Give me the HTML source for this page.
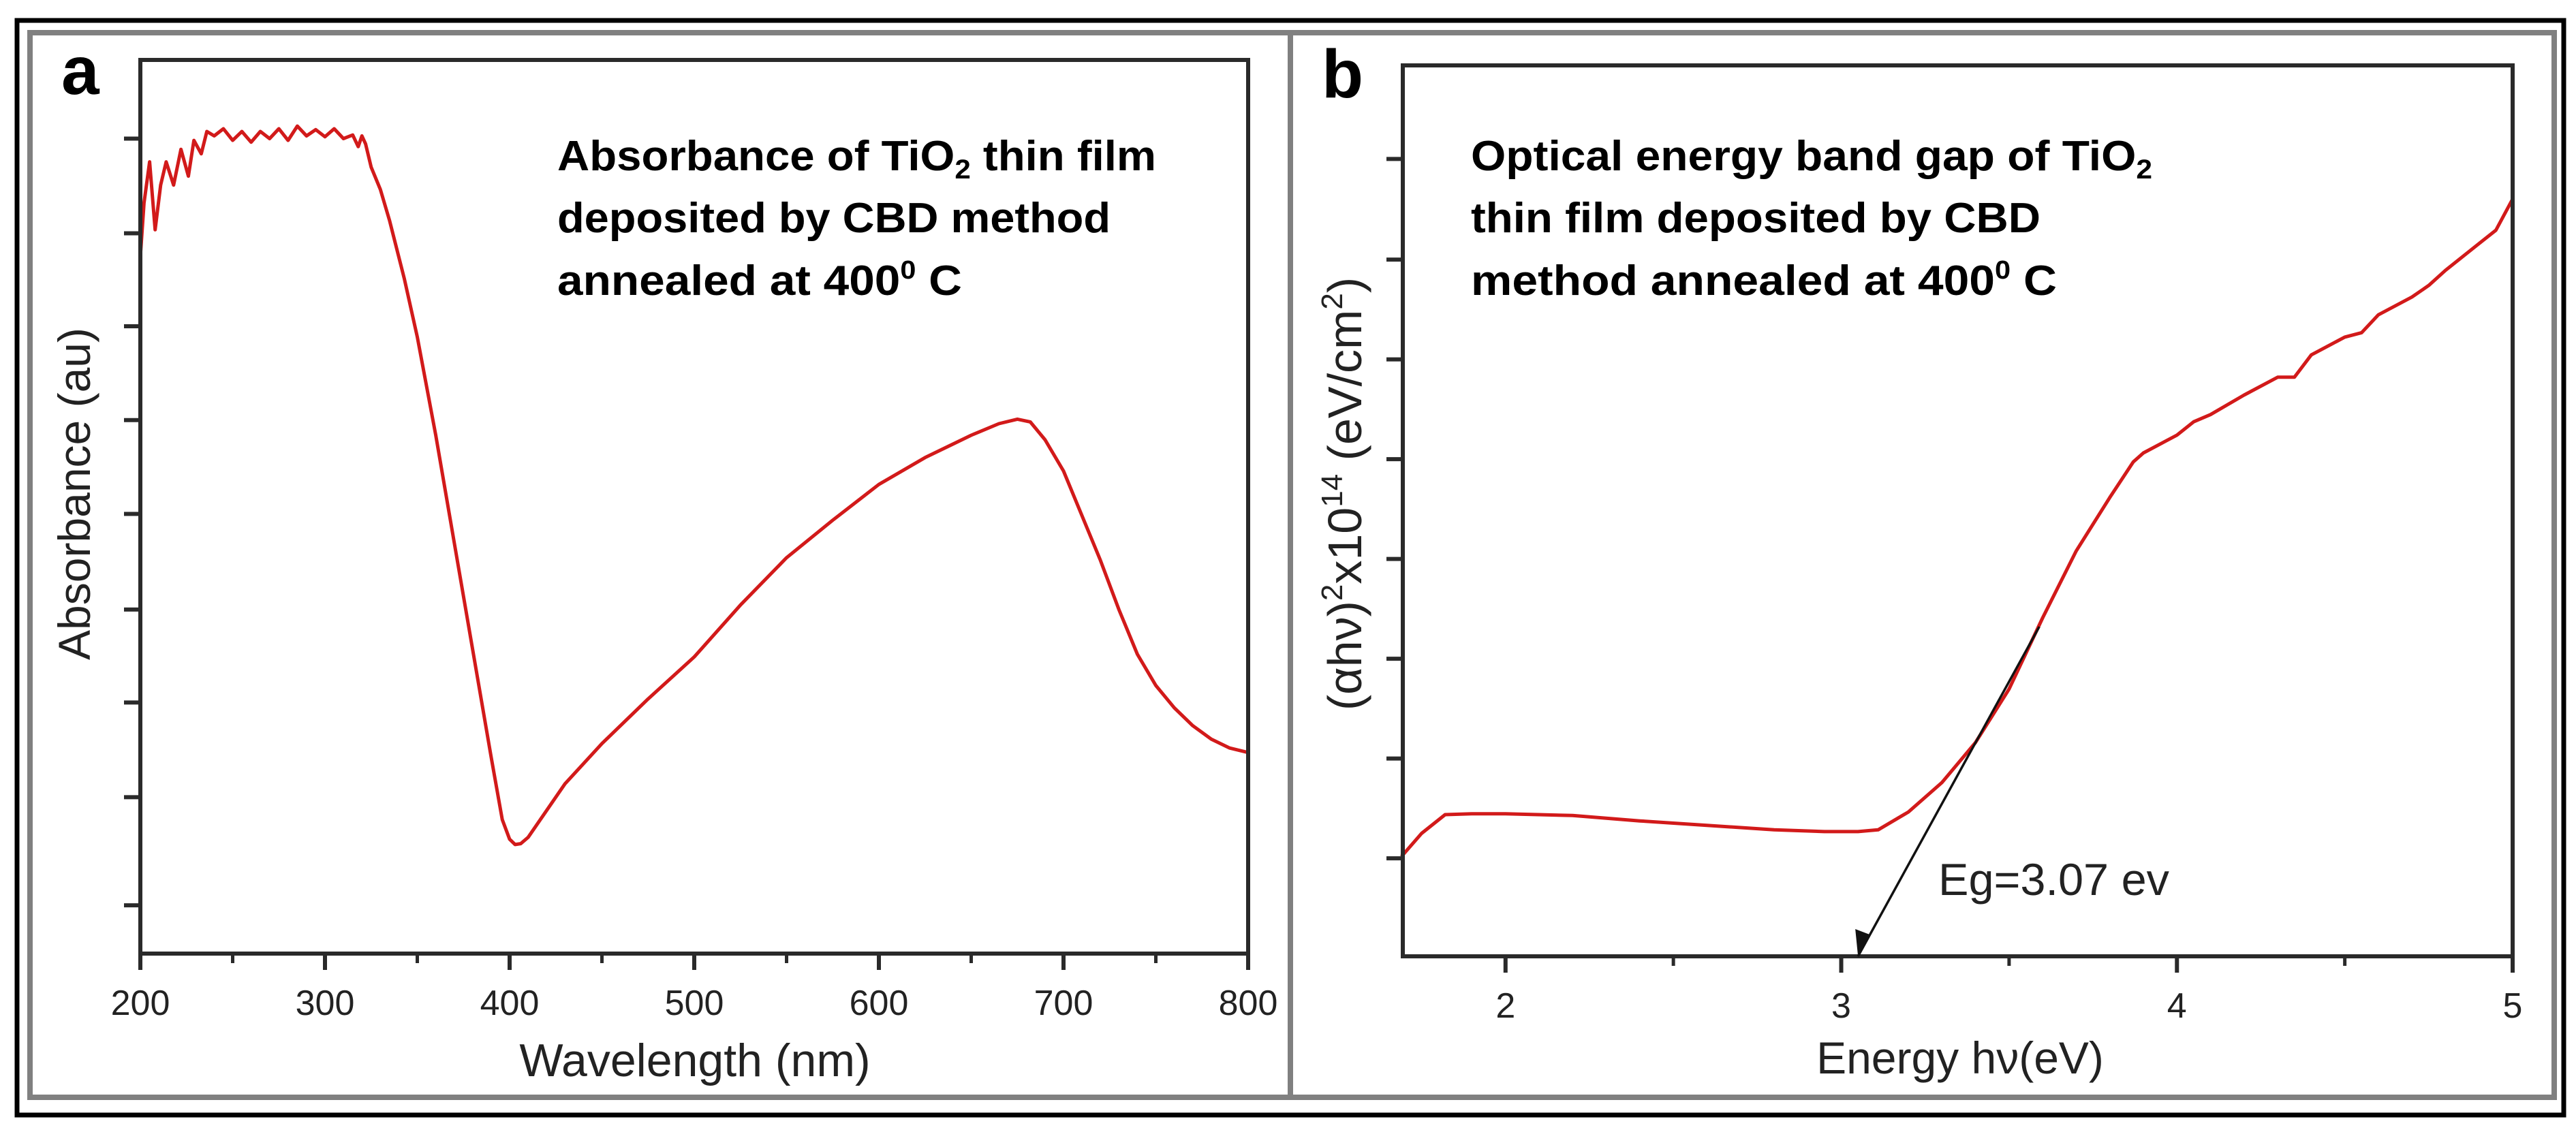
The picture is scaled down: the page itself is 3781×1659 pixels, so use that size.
<!DOCTYPE html>
<html><head><meta charset="utf-8"><style>
html,body{margin:0;padding:0;background:#fff;}
svg{display:block;}
text{font-family:"Liberation Sans",sans-serif;}
.ann{font-family:"Liberation Sans Narrow","Liberation Sans",sans-serif;font-weight:bold;font-size:62px;fill:#000;}
</style></head><body>
<svg id="fig" width="3781" height="1659" viewBox="0 0 3781 1659" xmlns="http://www.w3.org/2000/svg">
<rect x="0" y="0" width="3781" height="1659" fill="#fff"/>
<rect x="25" y="30" width="3738" height="1607" fill="none" stroke="#000" stroke-width="7"/>
<rect x="44" y="48" width="1850" height="1563" fill="none" stroke="#808080" stroke-width="8"/>
<rect x="1894" y="48" width="1855" height="1563" fill="none" stroke="#808080" stroke-width="8"/>
<g id="pa"></g>
<g id="pb"></g>
</svg>
<script>
// Panel a data
const aX = [200,202,205,208,211,214,218,222,226,229,233,236,240,245,250,255,260,265,270,275,280,285,290,295,300,305,310,315,318,320,322,325,330,335,343,350,360,370,380,390,396,400,403,406,410,420,430,450,475,500,525,550,575,600,625,650,665,675,682,690,700,710,720,730,740,750,760,770,780,790,800];
const aY = [78,84,88.6,81,86,88.6,86,90,87,91,89.5,92,91.5,92.3,91,92,90.8,92,91.2,92.3,91,92.6,91.5,92.2,91.4,92.3,91.2,91.6,90.3,91.5,90.6,88,85.5,82,75.5,69,58,46,34,22,15,12.8,12.2,12.3,13,16,19,23.5,28.5,33.2,39,44.3,48.5,52.5,55.5,58,59.3,59.8,59.5,57.5,54,49,44,38.5,33.5,30,27.5,25.5,24,23,22.5];
const aXTicks = [200,300,400,500,600,700,800];
const aXMinor = [250,350,450,550,650,750];
const aYTicks = [91.2,80.6,70.2,59.7,49.2,38.5,28.1,17.5,5.4];
// Panel b data
const bX = [1.69,1.75,1.82,1.9,2.0,2.2,2.4,2.6,2.8,2.95,3.05,3.11,3.2,3.3,3.4,3.5,3.6,3.7,3.8,3.87,3.9,4.0,4.05,4.1,4.2,4.3,4.35,4.4,4.5,4.55,4.6,4.7,4.75,4.8,4.85,4.9,4.95,5.0];
const bY = [11.2,13.8,15.9,16.0,16.0,15.8,15.2,14.7,14.2,14.0,14.0,14.2,16.2,19.5,24,30,38,45.5,51.5,55.5,56.5,58.5,60,60.8,63,65,65,67.5,69.5,70,72,74,75.3,77,78.5,80,81.5,85];
const bXTicks = [2,3,4,5];
const bXMinor = [2.5,3.5,4.5];
const bYTicks = [89.5,78.2,67,55.8,44.6,33.4,22.2,11];
const egX = [3.05,3.59];
const egY = [0,37];

const NS='http://www.w3.org/2000/svg';
function mk(parent,tag,attrs,txt){const e=document.createElementNS(NS,tag);for(const k in attrs)e.setAttribute(k,attrs[k]);if(txt!==undefined)e.textContent=txt;parent.appendChild(e);return e;}

function panel(g,o){
  const sx=v=>o.x0+(v-o.xmin)/(o.xmax-o.xmin)*(o.x1-o.x0);
  const sy=v=>o.y1-(v-0)/100*(o.y1-o.y0);
  let d='';o.X.forEach((x,i)=>{d+=(i?'L':'M')+sx(x).toFixed(1)+' '+sy(o.Y[i]).toFixed(1);});
  const c=mk(g,'path',{d:d,fill:'none',stroke:'#d21a1a','stroke-width':5,'stroke-linejoin':'round'});
  
  
  const ax=mk(g,'rect',{x:o.x0,y:o.y0,width:o.x1-o.x0,height:o.y1-o.y0,fill:'none',stroke:'#2a2a2a','stroke-width':6});
  
  
  o.xt.forEach(v=>{
    const t=mk(g,'line',{x1:sx(v),x2:sx(v),y1:o.y1,y2:o.y1+24,stroke:'#2a2a2a','stroke-width':6});
    
    
    const l=mk(g,'text',{x:sx(v),y:o.y1+90,'font-size':52,'text-anchor':'middle',fill:'#222'},String(v));
    
    
  });
  o.xm.forEach(v=>{
    const t=mk(g,'line',{x1:sx(v),x2:sx(v),y1:o.y1,y2:o.y1+14,stroke:'#2a2a2a','stroke-width':5});
    
    
  });
  o.yt.forEach(v=>{
    const t=mk(g,'line',{x1:o.x0-24,x2:o.x0,y1:sy(v),y2:sy(v),stroke:'#2a2a2a','stroke-width':6});
    
    
  });
  return {sx,sy};
}

const ga=document.getElementById('pa');
panel(ga,{tag:'a',x0:206,x1:1832,y0:88,y1:1400,xmin:200,xmax:800,X:aX,Y:aY,xt:aXTicks,xm:aXMinor,yt:aYTicks});
const gb=document.getElementById('pb');
const sb=panel(gb,{tag:'b',x0:2059,x1:3688,y0:96,y1:1404,xmin:1.694,xmax:5,X:bX,Y:bY,xt:bXTicks,xm:bXMinor,yt:bYTicks});

const ln=mk(gb,'line',{x1:sb.sx(egX[1]),y1:sb.sy(egY[1]),x2:sb.sx(egX[0]),y2:sb.sy(egY[0]),stroke:'#111','stroke-width':3.5});


{const tx=sb.sx(egX[0]),ty=sb.sy(egY[0]);
 const ar=mk(gb,'polygon',{points:`${tx},${ty} ${tx-4},${ty-40} ${tx+17},${ty-32}`,fill:'#111'});
 
 }
</script>
<svg style="position:absolute;left:0;top:0" width="3781" height="1659" viewBox="0 0 3781 1659" xmlns="http://www.w3.org/2000/svg">
<text x="90" y="138" font-size="100" font-weight="bold" fill="#000">a</text>
<text x="1940" y="143" font-size="100" font-weight="bold" fill="#000">b</text>
<text class="ann" x="818" y="250" textLength="879" lengthAdjust="spacingAndGlyphs">Absorbance of TiO<tspan font-size="40" dy="12">2</tspan><tspan dy="-12"> thin film</tspan></text>
<text class="ann" x="818" y="341" textLength="812" lengthAdjust="spacingAndGlyphs">deposited by CBD method</text>
<text class="ann" x="818" y="433" textLength="594" lengthAdjust="spacingAndGlyphs">annealed at 400<tspan font-size="38" dy="-24">0</tspan><tspan dy="24"> C</tspan></text>
<text class="ann" x="2159" y="250" textLength="1000" lengthAdjust="spacingAndGlyphs">Optical energy band gap of TiO<tspan font-size="40" dy="12">2</tspan></text>
<text class="ann" x="2159" y="341" textLength="836" lengthAdjust="spacingAndGlyphs">thin film deposited by CBD</text>
<text class="ann" x="2159" y="433" textLength="860" lengthAdjust="spacingAndGlyphs">method annealed at 400<tspan font-size="38" dy="-24">0</tspan><tspan dy="24"> C</tspan></text>
<text x="1020" y="1580" font-size="68" text-anchor="middle" fill="#222">Wavelength (nm)</text>
<text x="0" y="0" font-size="66" text-anchor="middle" fill="#222" transform="translate(132,725) rotate(-90)">Absorbance (au)</text>
<text x="2877" y="1576" font-size="66" text-anchor="middle" fill="#222">Energy hν(eV)</text>
<text x="0" y="0" font-size="70" text-anchor="middle" fill="#222" transform="translate(1998,725) rotate(-90)">(αhν)<tspan font-size="44" dy="-28">2</tspan><tspan dy="28">x10</tspan><tspan font-size="44" dy="-28">14</tspan><tspan dy="28"> (eV/cm</tspan><tspan font-size="44" dy="-28">2</tspan><tspan dy="28">)</tspan></text>
<text x="2845" y="1314" font-size="66" textLength="339" lengthAdjust="spacingAndGlyphs" fill="#222">Eg=3.07 ev</text>
</svg>
</body></html>
